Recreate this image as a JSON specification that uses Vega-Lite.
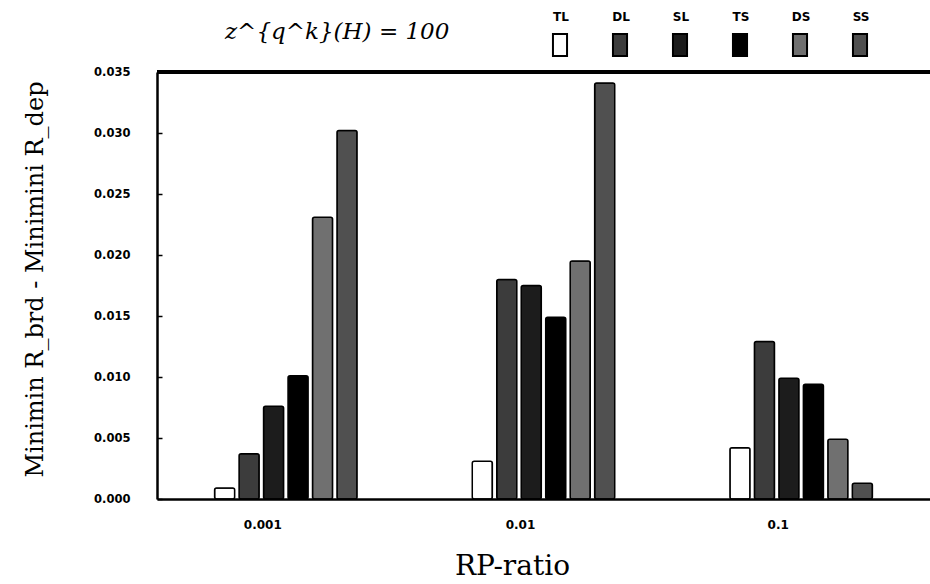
{
  "$schema": "https://vega.github.io/schema/vega-lite/v6.json",
  "width": 773,
  "height": 427,
  "autosize": {"type": "none"},
  "padding": {"left": 157, "top": 72, "right": 0, "bottom": 85},
  "background": "white",
  "title": {
    "text": "z^{q^k}(H) = 100",
    "font": "DejaVu Serif",
    "fontStyle": "italic",
    "fontWeight": "normal",
    "fontSize": 23,
    "anchor": "start",
    "frame": "group",
    "dx": 68,
    "dy": 38,
    "offset": 27,
    "color": "black"
  },
  "data": {
    "values": [
      {"ratio": "0.001", "type": "TL", "value": 0.0009},
      {"ratio": "0.001", "type": "DL", "value": 0.0037},
      {"ratio": "0.001", "type": "SL", "value": 0.0076},
      {"ratio": "0.001", "type": "TS", "value": 0.0101},
      {"ratio": "0.001", "type": "DS", "value": 0.0231},
      {"ratio": "0.001", "type": "SS", "value": 0.0302},
      {"ratio": "0.01", "type": "TL", "value": 0.0031},
      {"ratio": "0.01", "type": "DL", "value": 0.018},
      {"ratio": "0.01", "type": "SL", "value": 0.0175},
      {"ratio": "0.01", "type": "TS", "value": 0.0149},
      {"ratio": "0.01", "type": "DS", "value": 0.0195},
      {"ratio": "0.01", "type": "SS", "value": 0.0341},
      {"ratio": "0.1", "type": "TL", "value": 0.0042},
      {"ratio": "0.1", "type": "DL", "value": 0.0129},
      {"ratio": "0.1", "type": "SL", "value": 0.0099},
      {"ratio": "0.1", "type": "TS", "value": 0.0094},
      {"ratio": "0.1", "type": "DS", "value": 0.0049},
      {"ratio": "0.1", "type": "SS", "value": 0.0013}
    ]
  },
  "layer": [
    {
      "mark": {"type": "bar", "stroke": "black", "strokeWidth": 1.5, "cornerRadius": 2},
      "encoding": {
        "x": {
          "field": "ratio",
          "type": "nominal",
          "sort": ["0.001", "0.01", "0.1"],
          "scale": {"paddingInner": 0.43, "paddingOuter": 0.215},
          "axis": {
            "title": "RP-ratio",
            "labelAngle": 0,
            "labelOffset": -23,
            "ticks": false,
            "domainWidth": 2.5,
            "domainColor": "black",
            "labelFont": "DejaVu Sans",
            "labelFontWeight": "bold",
            "labelFontSize": 12,
            "labelColor": "black",
            "labelPadding": 20,
            "titleFont": "DejaVu Serif",
            "titleFontSize": 28,
            "titleFontWeight": "normal",
            "titleColor": "black",
            "titlePadding": 22,
            "titleX": 355
          }
        },
        "xOffset": {
          "field": "type",
          "type": "nominal",
          "sort": ["TL", "DL", "SL", "TS", "DS", "SS"],
          "scale": {"paddingInner": 0.18, "paddingOuter": 0.09}
        },
        "y": {
          "field": "value",
          "type": "quantitative",
          "scale": {"domain": [0, 0.035], "nice": false},
          "axis": {
            "title": "Minimin R_brd - Minimini R_dep",
            "values": [0, 0.005, 0.01, 0.015, 0.02, 0.025, 0.03, 0.035],
            "format": ".3f",
            "grid": false,
            "tickSize": -5,
            "tickWidth": 1.5,
            "tickColor": "black",
            "domainWidth": 2.5,
            "domainColor": "black",
            "labelFont": "DejaVu Sans",
            "labelFontWeight": "bold",
            "labelFontSize": 11.5,
            "labelColor": "black",
            "labelPadding": 32,
            "titleFont": "DejaVu Serif",
            "titleFontSize": 24,
            "titleFontWeight": "normal",
            "titleColor": "black",
            "titlePadding": 46,
            "titleY": 207
          }
        },
        "color": {
          "field": "type",
          "type": "nominal",
          "scale": {
            "domain": ["TL", "DL", "SL", "TS", "DS", "SS"],
            "range": ["#ffffff", "#3c3c3c", "#1c1c1c", "#000000", "#707070", "#505050"]
          },
          "legend": {
            "orient": "none",
            "legendX": 391,
            "legendY": -39,
            "direction": "horizontal",
            "columns": 6,
            "title": null,
            "padding": 0,
            "symbolType": "M-0.64,-1L0.64,-1L0.64,1L-0.64,1Z",
            "symbolSize": 484,
            "symbolStrokeColor": "black",
            "symbolStrokeWidth": 2,
            "symbolOpacity": 1,
            "labelFont": "DejaVu Sans",
            "labelFontWeight": "bold",
            "labelFontSize": 12,
            "labelColor": "black",
            "labelAlign": "center",
            "labelBaseline": "middle",
            "labelOffset": 0,
            "columnPadding": 36,
            "gridAlign": "all",
            "encoding": {
              "labels": {"dx": {"value": -11}, "dy": {"value": -28}}
            }
          }
        }
      }
    },
    {
      "mark": {"type": "rule", "strokeWidth": 2.5, "color": "black"},
      "encoding": {"y": {"datum": 0.035}}
    }
  ],
  "config": {"view": {"stroke": null}}
}
